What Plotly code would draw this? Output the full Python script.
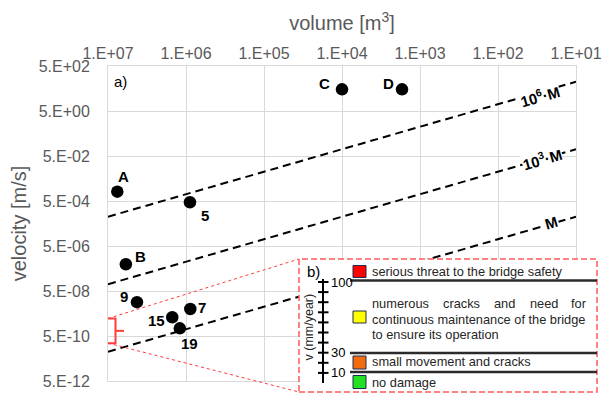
import math
import plotly.graph_objects as go

# ---------------- data ----------------
site_labels = ["A", "5", "B", "9", "7", "15", "19", "C", "D"]
site_volume = [7.6e6, 8.9e5, 5.9e6, 4.25e6, 8.8e5, 1.5e6, 1.2e6, 1.0e4, 1.7e3]
site_velocity = [1.3e-3, 4.4e-4, 7.7e-7, 1.6e-8, 7.9e-9, 3.4e-9, 1.1e-9, 46.0, 46.0]

line_volume = [1e7, 1e1]
line_M = [1e-10, 1e-4]
line_1e3M = [1e-7, 1e-1]
line_1e6M = [1e-4, 1e2]
line_labels = ["M", "10<sup>3</sup>·M", "10<sup>6</sup>·M"]

x_tickvals = [1e7, 1e6, 1e5, 1e4, 1e3, 1e2, 1e1]
x_ticktext = ["1.E+07", "1.E+06", "1.E+05", "1.E+04", "1.E+03", "1.E+02", "1.E+01"]
y_tickvals = [5e-12, 5e-10, 5e-8, 5e-6, 5e-4, 5e-2, 5e0, 5e2]
y_ticktext = ["5.E-12", "5.E-10", "5.E-08", "5.E-06", "5.E-04", "5.E-02", "5.E+00", "5.E+02"]

bracket_velocity = [3.0e-9, 2.4e-10]   # band of slow movements zoomed in panel b)

scale_labels = ["100", "30", "10"]
class_texts = ["serious threat to the bridge safety",
               "continuous maintenance of the bridge",
               "to ensure its operation",
               "small movement and cracks",
               "no damage"]
class_first_line_words = ["numerous", "cracks", "and", "need", "for"]
class_colors = ["#ff0000", "#ffff00", "#f26b0f", "#22e022"]

# ---------------- styling / layout helpers ----------------
FONT = "Liberation Sans, Arial, sans-serif"
W, H = 604, 394
L, R, T, B = 108, 576, 66, 381
YLO, YHI = math.log10(5e-12), math.log10(5e2)


def px(x):
    return (x - L) / (R - L)


def py(y):
    return (B - y) / (B - T)


def vy(v):
    return (math.log10(v) - YLO) / (YHI - YLO)


label_offsets = {"A": (6, -15), "5": (15, 13), "B": (15, -8), "9": (-13, -6),
                 "7": (12, -2), "15": (-16, 3), "19": (10, 15), "C": (-18, -6),
                 "D": (-14, -6)}

fig = go.Figure()

dash = "8px,5px"
for vals in (line_M, line_1e3M, line_1e6M):
    fig.add_trace(go.Scatter(x=line_volume, y=vals, mode="lines",
                             line=dict(color="black", width=2, dash=dash),
                             hoverinfo="skip", showlegend=False))

fig.add_trace(go.Scatter(x=site_volume, y=site_velocity, mode="markers",
                         marker=dict(color="black", size=12.5),
                         text=site_labels, showlegend=False))

annotations = []
for lab, v, s in zip(site_labels, site_volume, site_velocity):
    dx, dy = label_offsets[lab]
    annotations.append(dict(x=math.log10(v), y=math.log10(s), xref="x", yref="y",
                            text="<b>%s</b>" % lab, showarrow=False,
                            xshift=dx, yshift=-dy,
                            font=dict(family=FONT, size=15, color="black")))

# labels on dashed lines (log-coordinates)
line_label_pos = [(1.311, -4.265), (1.44, -1.403), (1.462, 1.366)]
for lab, (lx, ly) in zip(line_labels, line_label_pos):
    annotations.append(dict(x=lx, y=ly, xref="x", yref="y", text="<b>%s</b>" % lab,
                            showarrow=False, textangle=-16, bgcolor="white",
                            borderpad=0,
                            font=dict(family=FONT, size=15, color="black")))

annotations.append(dict(x=px(112), y=py(81.5), xref="paper", yref="paper", text="a)",
                        showarrow=False, xanchor="left", yanchor="middle",
                        font=dict(family=FONT, size=15, color="black")))

shapes = []
red = "#ff3b3b"
# bracket at the left edge
b0, b1 = vy(bracket_velocity[0]), vy(bracket_velocity[1])
bm = (b0 + b1) / 2
shapes.append(dict(type="path", xref="paper", yref="paper",
                   path="M %f %f L %f %f L %f %f L %f %f" % (px(108), b0, px(115.5), b0,
                                                             px(115.5), b1, px(108), b1),
                   line=dict(color=red, width=2)))
shapes.append(dict(type="line", xref="paper", yref="paper", x0=px(115.5), x1=px(124),
                   y0=bm, y1=bm, line=dict(color=red, width=2)))
# connectors
shapes.append(dict(type="line", xref="paper", yref="paper", x0=px(108), y0=b0,
                   x1=px(299), y1=py(259), line=dict(color=red, width=1, dash="dot")))
shapes.append(dict(type="line", xref="paper", yref="paper", x0=px(108), y0=b1,
                   x1=px(299), y1=py(392), line=dict(color=red, width=1, dash="dot")))
# inset box
shapes.append(dict(type="rect", xref="paper", yref="paper", x0=px(299), x1=px(597),
                   y0=py(392), y1=py(259), fillcolor="white",
                   line=dict(color="#ff5a5a", width=1.5, dash="6px,3px")))
# inset axis
shapes.append(dict(type="line", xref="paper", yref="paper", x0=px(323), x1=px(323),
                   y0=py(279), y1=py(383), line=dict(color="black", width=2)))
tick_ys = [282 + i * 10.1 for i in range(10)]
for ty in tick_ys:
    shapes.append(dict(type="line", xref="paper", yref="paper", x0=px(318), x1=px(328.5),
                       y0=py(ty), y1=py(ty), line=dict(color="black", width=2)))
for lab, ty in zip(scale_labels, [tick_ys[0], tick_ys[7], tick_ys[9]]):
    annotations.append(dict(x=px(328.5), y=py(ty), xref="paper", yref="paper", text=lab,
                            showarrow=False, xanchor="left", yanchor="middle",
                            font=dict(family=FONT, size=13, color="black")))
annotations.append(dict(x=px(308.5), y=py(327), xref="paper", yref="paper",
                        text="v (mm/year)", textangle=-90, showarrow=False,
                        xanchor="center", yanchor="middle",
                        font=dict(family=FONT, size=12.5, color="#262626")))
annotations.append(dict(x=px(305), y=py(271), xref="paper", yref="paper", text="b)",
                        showarrow=False, xanchor="left", yanchor="middle",
                        font=dict(family=FONT, size=15, color="black")))
# separators
for sy in (280.5, 353, 372):
    shapes.append(dict(type="line", xref="paper", yref="paper", x0=px(350), x1=px(597),
                       y0=py(sy), y1=py(sy), line=dict(color="#2b2b2b", width=2.5)))
# colour squares
for col, (ya, yb) in zip(class_colors, [(265.5, 277.5), (311, 323), (356, 369), (375.5, 388.5)]):
    shapes.append(dict(type="rect", xref="paper", yref="paper", x0=px(353), x1=px(366),
                       y0=py(yb), y1=py(ya), fillcolor=col,
                       line=dict(color="#1f2d4d", width=1)))
# class texts
tfont = dict(family=FONT, size=12.8, color="#262626")
for txt, ty in zip(class_texts, [271, 319.3, 334.3, 361.7, 382]):
    annotations.append(dict(x=px(370), y=py(ty), xref="paper", yref="paper", text=txt,
                            showarrow=False, xanchor="left", yanchor="middle", font=tfont))
for word, wx in zip(class_first_line_words, [370, 441, 492.3, 527.7, 569.3]):
    annotations.append(dict(x=px(wx), y=py(303.3), xref="paper", yref="paper", text=word,
                            showarrow=False, xanchor="left", yanchor="middle", font=tfont))

axis_common = dict(type="log", showgrid=True, gridcolor="#d9d9d9", gridwidth=1,
                   showline=True, linecolor="#d9d9d9", linewidth=1, mirror=True,
                   zeroline=False, ticks="", tickmode="array", automargin=False,
                   tickfont=dict(family=FONT, size=16, color="#595959"))

fig.update_layout(
    width=W, height=H, autosize=False,
    margin=dict(l=L, r=W - R, t=T, b=H - B, pad=0),
    paper_bgcolor="white", plot_bgcolor="white",
    showlegend=False,
    xaxis=dict(axis_common, range=[7, 1], side="top", tickvals=x_tickvals,
               ticktext=x_ticktext, ticklabelstandoff=0,
               title=dict(text="volume [m<sup>3</sup>]", standoff=8,
                          font=dict(family=FONT, size=20, color="#595959"))),
    yaxis=dict(axis_common, range=[YLO, YHI], tickvals=y_tickvals, ticktext=y_ticktext,
               ticklabelstandoff=14,
               title=dict(text="velocity [m/s]", standoff=6,
                          font=dict(family=FONT, size=20, color="#595959"))),
    shapes=shapes, annotations=annotations,
)

fig.write_html("out.html", config={"displayModeBar": False},
               post_script="document.body.style.margin='0';")
